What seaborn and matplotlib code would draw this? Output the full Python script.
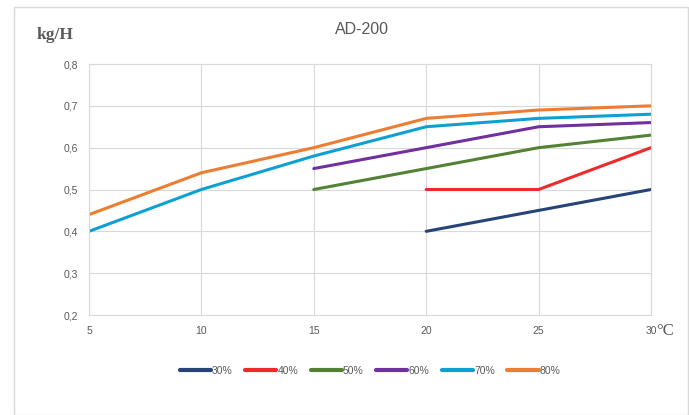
import matplotlib
matplotlib.use("Agg")
import matplotlib.pyplot as plt
import seaborn as sns
import pandas as pd
from matplotlib.patches import Rectangle

temps = [5, 10, 15, 20, 25, 30]
series_names = ["30%", "40%", "50%", "60%", "70%", "80%"]
v30 = [None, None, None, 0.40, 0.45, 0.50]
v40 = [None, None, None, 0.50, 0.50, 0.60]
v50 = [None, None, 0.50, 0.55, 0.60, 0.63]
v60 = [None, None, 0.55, 0.60, 0.65, 0.66]
v70 = [0.40, 0.50, 0.58, 0.65, 0.67, 0.68]
v80 = [0.44, 0.54, 0.60, 0.67, 0.69, 0.70]
colors = ["#264478", "#EE2A2A", "#548235", "#7030A0", "#0FA0D2", "#ED7D31"]
yticks = [0.2, 0.3, 0.4, 0.5, 0.6, 0.7, 0.8]

rows = []
for name, vals in zip(series_names, [v30, v40, v50, v60, v70, v80]):
    for t, v in zip(temps, vals):
        if v is not None:
            rows.append({"T": t, "val": v, "series": name})
df = pd.DataFrame(rows)

sns.set_theme(style="white")
plt.rcParams['font.family'] = ['Liberation Sans', 'DejaVu Sans']

fig = plt.figure(figsize=(6.89, 4.15), dpi=100)
ax = fig.add_axes([89/689, 1-315/415, (651-89)/689, (315-64)/415])

sns.lineplot(data=df, x="T", y="val", hue="series", hue_order=series_names,
             palette=colors, linewidth=2.2, ax=ax, legend=True)

ax.set_xlim(5, 30)
ax.set_ylim(0.2, 0.8)
ax.set_xticks(temps)
ax.set_xticklabels([str(t) for t in temps])
ax.set_yticks(yticks)
ax.set_yticklabels([f"{y:.1f}".replace(".", ",") for y in yticks])
ax.grid(True, color="#D9D9D9", linewidth=0.8)
ax.set_axisbelow(True)
for s in ax.spines.values():
    s.set_color("#D9D9D9")
    s.set_linewidth(0.8)
ax.tick_params(axis="both", length=0, labelsize=7.5, labelcolor="#595959", pad=8)
ax.set_xlabel("")
ax.set_ylabel("")

fig.text(362/689, 1-30/415, "AD-200", ha="center", va="center", fontsize=11.5, color="#595959")
fig.text(37/689, 1-35/415, "kg/H", ha="left", va="center", fontsize=12.5, color="#595959",
         fontweight="bold", family=["Liberation Serif", "DejaVu Serif"])
fig.text(656/689, 1-331/415, "°C", ha="left", va="center", fontsize=12, color="#595959",
         family=["Liberation Serif", "DejaVu Serif"])

handles, labels = ax.get_legend_handles_labels()
for h in handles:
    h.set_linewidth(3)
ax.legend(handles, labels, loc="center", bbox_to_anchor=(370/689, 1-371/415),
          bbox_transform=fig.transFigure, ncol=6, frameon=False, fontsize=7.5,
          handlelength=3, handletextpad=0.1, columnspacing=1.2, labelcolor="#595959")

fig.add_artist(Rectangle((14/689, 0), 1 - 14/689 - 0.002, 1 - 7/415, transform=fig.transFigure,
                         fill=False, edgecolor="#D9D9D9", linewidth=1))

fig.savefig("out.png", dpi=100)
